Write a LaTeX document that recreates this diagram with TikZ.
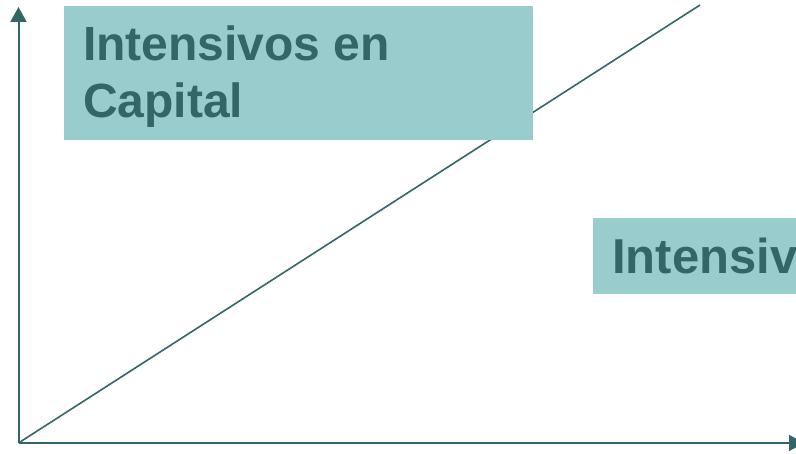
\documentclass[tikz,border=0pt]{standalone}
\usepackage{fontspec}
\setmainfont{Liberation Sans}
\usetikzlibrary{arrows.meta}
\definecolor{teal}{HTML}{336666}
\definecolor{boxfill}{HTML}{99CCCC}
\tikzset{
  axis/.style={draw=teal, line width=2pt, -{Triangle[length=15pt,width=16pt]}},
  trend/.style={draw=teal, line width=1.6pt},
  box/.style={fill=boxfill, draw=none, inner sep=0pt, rectangle},
  lbl/.style={text=teal, font=\bfseries\fontsize{48}{57}\selectfont, inner sep=0pt, anchor=base west},
}
\begin{document}
\begin{tikzpicture}[x=1pt,y=-1pt]
\useasboundingbox (0,0) rectangle (796,454);
\clip (0,0) rectangle (796,454);
\coordinate (O) at (18.5,443);
\coordinate (Ytip) at (18.5,7);
\coordinate (Xtip) at (804,443);
\coordinate (Lend) at (700,5);
\draw[trend] (O) -- (Lend);
\draw[axis] (O) -- (Ytip);
\draw[axis] (O) -- (Xtip);
\node[box, anchor=north west, minimum width=469pt, minimum height=134pt] (b1) at (64,6) {};
\node[lbl] (t1) at (83,61) {Intensivos en};
\node[lbl] (t2) at (83,118) {Capital};
\node[box, anchor=north west, minimum width=220pt, minimum height=76pt] (b2) at (593,218) {};
\node[lbl, font=\bfseries\fontsize{49}{57}\selectfont] (t3) at (612,274) {Intensivos};
\end{tikzpicture}
\end{document}
